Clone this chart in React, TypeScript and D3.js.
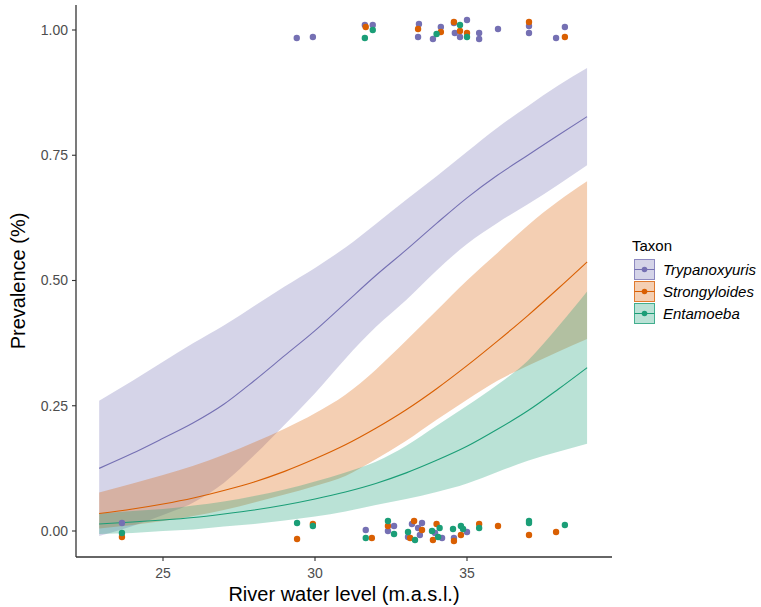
import React from "react";
import * as d3 from "d3";

// ---- data ----
const taxa = ["Trypanoxyuris", "Strongyloides", "Entamoeba"];
const taxonColors = ["#7570B3", "#D95F02", "#1B9E77"];

const waterLevel = [22.9, 24, 25, 26, 27, 28, 29, 30, 31, 32, 33, 34, 35, 36, 37, 38, 38.95];

const trypFit = [0.125, 0.155, 0.185, 0.216, 0.253, 0.3, 0.35, 0.4, 0.455, 0.51, 0.561, 0.614, 0.665, 0.71, 0.75, 0.79, 0.827];
const trypUpper = [0.26, 0.3, 0.338, 0.375, 0.41, 0.449, 0.488, 0.525, 0.566, 0.613, 0.661, 0.708, 0.757, 0.805, 0.848, 0.889, 0.924];
const trypLower = [-0.01, 0.01, 0.032, 0.057, 0.096, 0.151, 0.212, 0.275, 0.344, 0.407, 0.461, 0.52, 0.573, 0.615, 0.652, 0.691, 0.73];

const strongFit = [0.035, 0.044, 0.054, 0.066, 0.081, 0.098, 0.119, 0.144, 0.172, 0.205, 0.242, 0.284, 0.33, 0.379, 0.43, 0.484, 0.537];
const strongUpper = [0.077, 0.095, 0.112, 0.13, 0.152, 0.177, 0.204, 0.235, 0.272, 0.322, 0.38, 0.44, 0.5, 0.555, 0.61, 0.658, 0.698];
const strongLower = [0.005, 0.012, 0.02, 0.03, 0.042, 0.057, 0.073, 0.09, 0.11, 0.143, 0.18, 0.222, 0.262, 0.3, 0.33, 0.358, 0.383];

const entFit = [0.014, 0.018, 0.022, 0.027, 0.034, 0.042, 0.052, 0.064, 0.078, 0.095, 0.116, 0.141, 0.169, 0.203, 0.24, 0.283, 0.326];
const entUpper = [0.035, 0.04, 0.044, 0.051, 0.059, 0.07, 0.083, 0.099, 0.117, 0.138, 0.17, 0.21, 0.25, 0.292, 0.34, 0.408, 0.478];
const entLower = [-0.006, -0.004, 0, 0.003, 0.009, 0.014, 0.021, 0.029, 0.039, 0.052, 0.064, 0.078, 0.095, 0.118, 0.14, 0.158, 0.174];

// observed (jittered) presence / absence
const trypObsX = [29.4, 29.93, 31.64, 31.9, 33.42, 33.39, 33.88, 34.14, 34.57, 35.0, 34.6, 34.77, 35.4, 35.4, 36.02, 37.04, 37.04, 37.93, 38.22,
  23.65, 31.67, 32.6, 32.4, 33.19, 33.52, 33.39, 33.06, 33.45, 33.95, 34.18, 35.0, 34.57];
const trypObsY = [0.984, 0.986, 1.01, 1.01, 1.012, 0.986, 0.982, 1.006, 1.014, 1.02, 0.994, 0.986, 0.994, 0.982, 1.002, 1.008, 0.994, 0.984, 1.006,
  0.016, 0.002, 0.01, 0.0, 0.014, 0.016, 0.006, -0.012, -0.008, -0.004, -0.014, -0.002, -0.014];

const strongObsX = [31.67, 33.39, 34.14, 34.57, 34.77, 35.0, 37.04, 38.22,
  23.65, 29.41, 29.93, 31.87, 32.4, 33.26, 33.52, 33.13, 34.0, 33.88, 34.8, 34.57, 35.4, 36.02, 37.04, 37.93];
const strongObsY = [1.006, 1.002, 0.996, 1.016, 0.998, 0.994, 1.016, 0.986,
  -0.012, -0.016, 0.014, -0.014, 0.01, 0.02, 0.002, -0.014, 0.014, -0.018, -0.008, -0.02, 0.014, 0.01, -0.008, -0.002];

const entObsX = [31.9, 31.64, 34.0, 34.77, 35.0,
  23.65, 29.41, 29.93, 31.67, 32.4, 32.6, 33.06, 33.29, 34.1, 33.85, 34.05, 34.54, 34.8, 34.87, 35.4, 37.04, 37.04, 38.22];
const entObsY = [1.0, 0.984, 0.992, 1.01, 0.986,
  -0.004, 0.016, 0.01, -0.014, 0.02, -0.006, -0.002, -0.018, 0.006, 0.0, -0.012, 0.004, 0.01, 0.004, 0.006, 0.02, 0.016, 0.012];

const xTicks = [25, 30, 35];
const yTicks = [0, 0.25, 0.5, 0.75, 1];
const yTickLabels = ["0.00", "0.25", "0.50", "0.75", "1.00"];

const xTitle = "River water level (m.a.s.l.)";
const yTitle = "Prevalence (%)";
const legendTitle = "Taxon";

// ---- layout ----
const W = 761;
const H = 607;
const plotLeft = 76;
const plotRight = 612;
const plotTop = 5;
const plotBottom = 557;
const FONT = "'Liberation Sans', Arial, Helvetica, sans-serif";

export default function App() {
  const x = d3.scaleLinear().domain([22.138, 39.77]).range([plotLeft, plotRight]);
  const y = d3.scaleLinear().domain([-0.0519, 1.0499]).range([plotBottom, plotTop]);

  const series = [
    { fit: trypFit, lo: trypLower, hi: trypUpper, ox: trypObsX, oy: trypObsY },
    { fit: strongFit, lo: strongLower, hi: strongUpper, ox: strongObsX, oy: strongObsY },
    { fit: entFit, lo: entLower, hi: entUpper, ox: entObsX, oy: entObsY },
  ];

  const area = d3
    .area<number>()
    .x((i) => x(waterLevel[i]))
    .curve(d3.curveMonotoneX);
  const line = d3
    .line<number>()
    .x((i) => x(waterLevel[i]))
    .curve(d3.curveMonotoneX);
  const idx = waterLevel.map((_, i) => i);

  return (
    <svg
      width={W}
      height={H}
      style={{ position: "absolute", left: 0, top: 0, background: "#fff" }}
      fontFamily={FONT}
    >
      <rect x={0} y={0} width={W} height={H} fill="#fff" />
      {/* ribbons */}
      {series.map((s, k) => (
        <path
          key={"r" + k}
          d={area.y0((i) => y(s.lo[i])).y1((i) => y(s.hi[i]))(idx) || ""}
          fill={taxonColors[k]}
          fillOpacity={0.3}
          stroke="none"
        />
      ))}
      {/* fitted lines */}
      {series.map((s, k) => (
        <path
          key={"l" + k}
          d={line.y((i) => y(s.fit[i]))(idx) || ""}
          fill="none"
          stroke={taxonColors[k]}
          strokeWidth={1.1}
        />
      ))}
      {/* points */}
      {series.map((s, k) =>
        s.ox.map((v, j) => (
          <circle key={"p" + k + "-" + j} cx={x(v)} cy={y(s.oy[j])} r={3.2} fill={taxonColors[k]} />
        ))
      )}

      {/* axes */}
      <line x1={plotLeft} x2={plotLeft} y1={plotTop} y2={plotBottom} stroke="#333" strokeWidth={1.3} />
      <line x1={plotLeft} x2={plotRight} y1={plotBottom} y2={plotBottom} stroke="#333" strokeWidth={1.3} />
      {yTicks.map((t, i) => (
        <g key={"yt" + i}>
          <line x1={plotLeft - 4} x2={plotLeft} y1={y(t)} y2={y(t)} stroke="#333" strokeWidth={1.1} />
          <text x={plotLeft - 8} y={y(t)} dy="0.35em" textAnchor="end" fontSize={14} fill="#4D4D4D">
            {yTickLabels[i]}
          </text>
        </g>
      ))}
      {xTicks.map((t, i) => (
        <g key={"xt" + i}>
          <line x1={x(t)} x2={x(t)} y1={plotBottom} y2={plotBottom + 4} stroke="#333" strokeWidth={1.1} />
          <text x={x(t)} y={plotBottom + 21} textAnchor="middle" fontSize={14} fill="#4D4D4D">
            {t}
          </text>
        </g>
      ))}
      <text x={(plotLeft + plotRight) / 2} y={601} textAnchor="middle" fontSize={20} fill="#000">
        {xTitle}
      </text>
      <text
        transform={`translate(25, ${(plotTop + plotBottom) / 2}) rotate(-90)`}
        textAnchor="middle"
        fontSize={20}
        fill="#000"
      >
        {yTitle}
      </text>

      {/* legend */}
      <text x={632} y={251} fontSize={15} fill="#000">
        {legendTitle}
      </text>
      {taxa.map((name, k) => {
        const top = 259 + k * 22;
        return (
          <g key={"lg" + k}>
            <rect x={634.5} y={top + 0.5} width={20} height={20} fill="#fff" />
            <rect
              x={634.5}
              y={top + 0.5}
              width={20}
              height={20}
              fill={taxonColors[k]}
              fillOpacity={0.3}
              stroke={taxonColors[k]}
              strokeOpacity={0.8}
              strokeWidth={1}
            />
            <line x1={634.5} x2={654.5} y1={top + 10.5} y2={top + 10.5} stroke={taxonColors[k]} strokeWidth={1} />
            <circle cx={644.5} cy={top + 10.5} r={2.8} fill={taxonColors[k]} />
            <text x={663} y={top + 10.5} dy="0.35em" fontSize={15} fontStyle="italic" fill="#000">
              {name}
            </text>
          </g>
        );
      })}
    </svg>
  );
}
